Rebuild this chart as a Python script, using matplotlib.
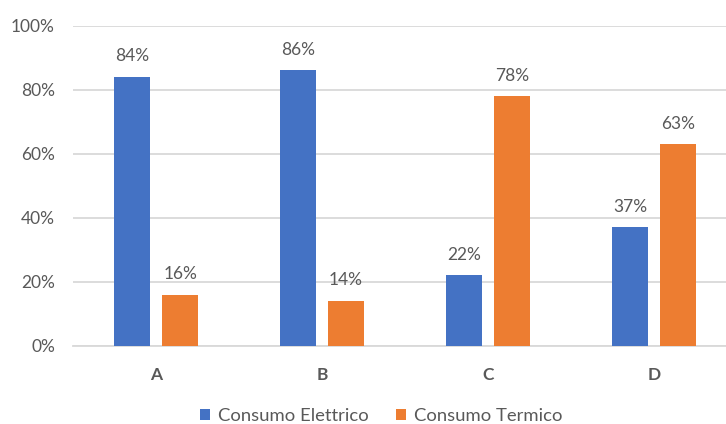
import matplotlib.pyplot as plt
import numpy as np

plt.rcParams['font.family'] = ['Lato', 'DejaVu Sans']

categories = ['A', 'B', 'C', 'D']
elettrico = [0.84, 0.86, 0.22, 0.37]
termico = [0.16, 0.14, 0.78, 0.63]
labels = ['Consumo Elettrico', 'Consumo Termico']
colors = ['#4472C4', '#ED7D31']
text_col = '#595959'

fig = plt.figure(figsize=(7.26, 4.24), dpi=100)
ax = fig.add_axes([73 / 726, 1 - 345.7 / 424, 1 - 73 / 726, 320 / 424])

x = np.arange(len(categories))
w = 0.217
off = 0.145
b1 = ax.bar(x - off, elettrico, w, color=colors[0], label=labels[0], zorder=3)
b2 = ax.bar(x + off, termico, w, color=colors[1], label=labels[1], zorder=3)

for bars, vals in ((b1, elettrico), (b2, termico)):
    for rect, v in zip(bars, vals):
        ax.annotate(f'{v:.0%}', (rect.get_x() + rect.get_width() / 2, v),
                    xytext=(0, 9), textcoords='offset points',
                    ha='center', va='bottom', fontsize=12.5, color=text_col)

ax.set_ylim(0, 1)
ax.set_xlim(-0.5, 3.5 - 11 / 166)
ax.set_yticks(np.arange(0, 1.01, 0.2))
ax.set_yticklabels([f'{t:.0%}' for t in np.arange(0, 1.01, 0.2)])
ax.set_xticks(x)
ax.set_xticklabels(categories, fontweight='bold')
ax.tick_params(axis='both', length=0, labelsize=12.5, labelcolor=text_col)
ax.tick_params(axis='y', pad=13)
ax.tick_params(axis='x', pad=15)
ax.yaxis.grid(True, color='#d9d9d9', linewidth=1.3, zorder=0)
for s in ['top', 'right', 'left']:
    ax.spines[s].set_visible(False)
ax.spines['bottom'].set_color('#d9d9d9')
ax.spines['bottom'].set_linewidth(1.3)

leg = fig.legend(handles=[b1, b2], labels=labels, loc='center',
                 bbox_to_anchor=(381 / 726, 1 - 416 / 424), ncol=2, frameon=False,
                 fontsize=13.3, handlelength=0.55, handleheight=0.55,
                 handletextpad=0.4, columnspacing=1.5)
for t in leg.get_texts():
    t.set_color(text_col)

fig.savefig('out.png', dpi=100)
